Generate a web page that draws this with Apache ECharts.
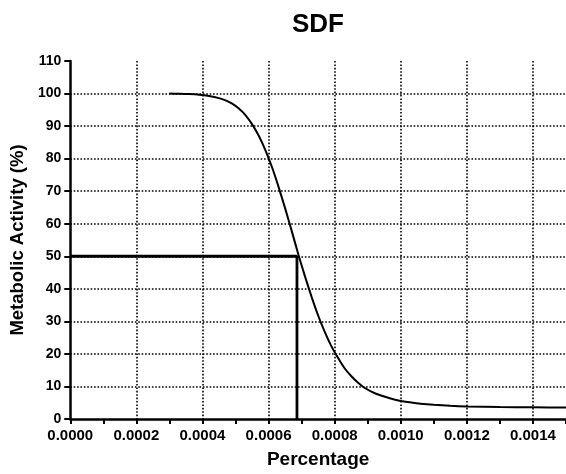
<!DOCTYPE html>
<html>
<head>
<meta charset="utf-8">
<script src="https://cdn.jsdelivr.net/npm/echarts@6/dist/echarts.min.js"></script>
<style>html,body{margin:0;padding:0;background:#fff;}#c{width:566px;height:474px;}</style>
</head>
<body>
<div id="c"></div>
<script>
const title = "SDF";
const xName = "Percentage";
const yName = "Metabolic Activity (%)";
const curveX = [0.0003, 0.00033, 0.00036, 0.00039, 0.00042, 0.00045, 0.00047, 0.00049, 0.00051, 0.00053, 0.00055, 0.00057, 0.00059, 0.00061, 0.00063, 0.00065, 0.00067, 0.00069, 0.00071, 0.00073, 0.00075, 0.00077, 0.00079, 0.00081, 0.00083, 0.00085, 0.00087, 0.00089, 0.00092, 0.00095, 0.00098, 0.00102, 0.00106, 0.0011, 0.00115, 0.0012, 0.0013, 0.0014, 0.0015];
const curveY = [99.98, 99.95, 99.85, 99.65, 99.25, 98.6, 97.9, 96.9, 95.4, 93.4, 90.6, 87.1, 82.7, 77.5, 71.4, 64.8, 57.8, 50.6, 43.9, 37.6, 31.8, 26.8, 22.4, 18.8, 15.6, 13.2, 11.2, 9.6, 8.0, 6.9, 6.0, 5.2, 4.7, 4.35, 4.05, 3.85, 3.65, 3.58, 3.55];
const ic50X = [0, 0.000686, 0.000686];
const ic50Y = [50, 50, 0];

const font = "'Liberation Sans', Arial, sans-serif";
const chart = echarts.init(document.getElementById('c'), null, {renderer: 'canvas'});
chart.setOption({
  animation: false,
  title: {text: title, left: 313, top: 7, textAlign: 'center',
    textStyle: {fontFamily: font, fontWeight: 'bold', fontSize: 26, color: '#000'}},
  grid: {left: 68, right: 0, top: 61, bottom: 52, containLabel: false},
  xAxis: {
    type: 'value', min: 0, max: 0.0015, interval: 0.0002,
    name: xName, nameLocation: 'middle', nameGap: 31,
    nameTextStyle: {fontFamily: font, fontWeight: 'bold', fontSize: 19, color: '#000'},
    axisLine: {lineStyle: {color: '#000', width: 2.5}},
    axisTick: {length: 5, lineStyle: {color: '#000', width: 2}},
    minorTick: {show: true, splitNumber: 2, length: 5, lineStyle: {color: '#000', width: 2}},
    axisLabel: {fontFamily: font, fontWeight: 'bold', fontSize: 15, color: '#000', margin: 9,
      showMaxLabel: false, formatter: v => v.toFixed(4)},
    splitLine: {show: true, showMinLine: false, showMaxLine: false,
      lineStyle: {color: '#000', width: 1.6, type: [1.6, 1.8]}}
  },
  yAxis: {
    type: 'value', min: 0, max: 110, interval: 10,
    name: yName, nameLocation: 'middle', nameGap: 40, nameRotate: 90,
    nameTextStyle: {fontFamily: font, fontWeight: 'bold', fontSize: 18.5, color: '#000'},
    axisLine: {show: true, lineStyle: {color: '#000', width: 2.5}},
    axisTick: {show: true, length: 6, lineStyle: {color: '#000', width: 2}},
    axisLabel: {fontFamily: font, fontWeight: 'bold', fontSize: 14, color: '#000', margin: 9},
    splitLine: {show: true, showMinLine: false, showMaxLine: false,
      lineStyle: {color: '#000', width: 1.6, type: [1.6, 1.8]}}
  },
  series: [
    {type: 'line', data: curveX.map((x, i) => [x, curveY[i]]), smooth: 0.2, showSymbol: false,
      lineStyle: {color: '#000', width: 2}, z: 3},
    {type: 'line', data: ic50X.map((x, i) => [x, ic50Y[i]]), showSymbol: false,
      lineStyle: {color: '#000', width: 2.8}, z: 4}
  ]
});
</script>
</body>
</html>
